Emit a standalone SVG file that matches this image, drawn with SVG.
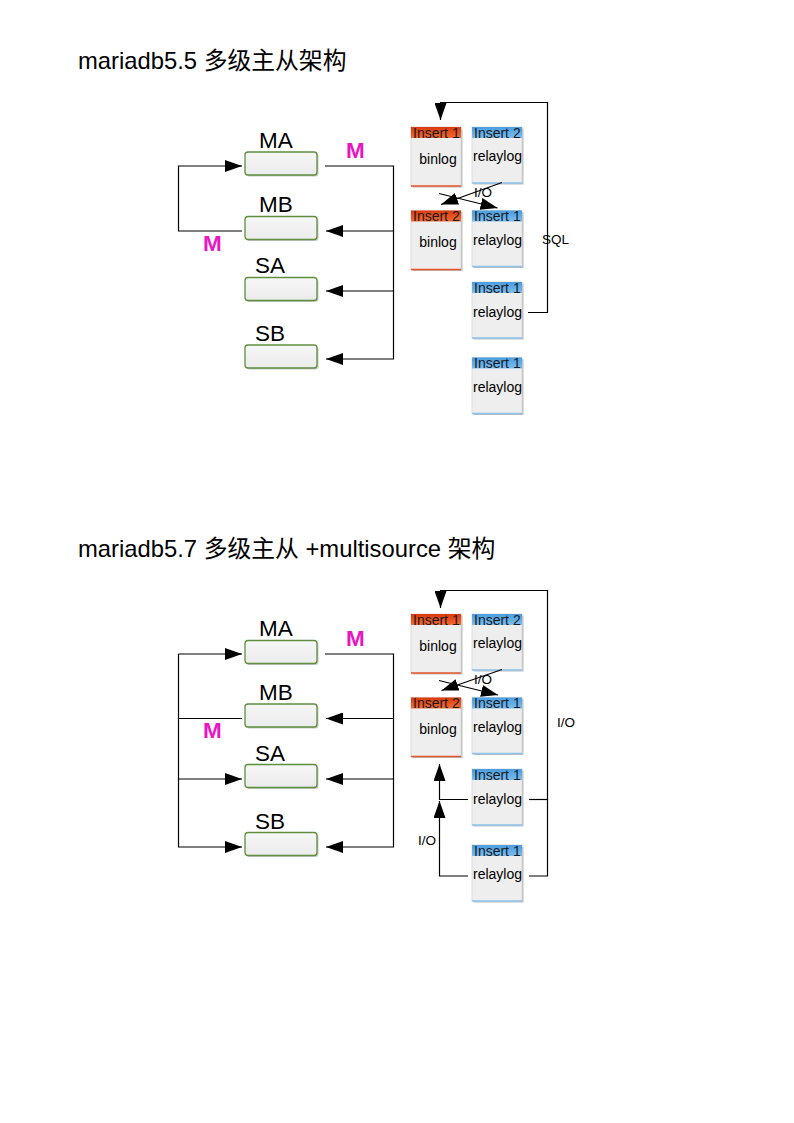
<svg xmlns="http://www.w3.org/2000/svg" width="794" height="1123" viewBox="0 0 794 1123">
<defs>
<marker id="ah" markerUnits="userSpaceOnUse" markerWidth="18" markerHeight="12" refX="17" refY="6" orient="auto">
<path d="M0,0 L17,6 L0,12 z" fill="#000"/>
</marker>
<linearGradient id="gbox" x1="0" y1="0" x2="0" y2="1">
<stop offset="0" stop-color="#f7f7f7"/><stop offset="1" stop-color="#ebebeb"/>
</linearGradient>
<linearGradient id="gor" x1="0" y1="0" x2="0" y2="1">
<stop offset="0" stop-color="#dc3a0c"/><stop offset="1" stop-color="#f26a34"/>
</linearGradient>
<linearGradient id="gbl" x1="0" y1="0" x2="0" y2="1">
<stop offset="0" stop-color="#4a9de0"/><stop offset="1" stop-color="#78bdf0"/>
</linearGradient>
</defs>
<style>
.title{font-family:"Liberation Sans","Noto Sans CJK SC",sans-serif;font-size:23.8px;fill:#000}
.lbl{font-family:"Liberation Sans",sans-serif;font-size:22.5px;fill:#000}
.m{font-family:"Liberation Sans",sans-serif;font-size:22.5px;font-weight:bold;fill:#e816c4}
.hd{font-family:"Liberation Sans",sans-serif;font-size:14px;fill:#1a1a1a}
.bt{font-family:"Liberation Sans",sans-serif;font-size:14px;fill:#000;text-anchor:middle}
.cl{font-family:"Liberation Sans",sans-serif;font-size:13.5px;fill:#000}
.node{fill:url(#gbox);stroke:#5e8f3e;stroke-width:1.3}
.nsh{fill:#c9c9c9}
.body{fill:#eeeeee;stroke:#d4d4d4;stroke-width:0.8}
.sh{fill:#bdbdbd}
.ho{fill:url(#gor)}
.hb{fill:url(#gbl)}
.bo{stroke:#e8552a;stroke-width:1.5}
.bb{stroke:#8cc4ee;stroke-width:1.5}
.c{fill:none;stroke:#000;stroke-width:1.2}
.a{marker-end:url(#ah)}
</style>

<text class="title" x="78" y="69">mariadb5.5 多级主从架构</text>
<text class="title" x="78" y="557">mariadb5.7 多级主从 +multisource 架构</text>

<!-- Diagram 1 left nodes -->
<g id="d1-MA"><rect class="nsh" x="246.5" y="153.5" width="72" height="23" rx="3"/><rect class="node" x="245" y="152" width="72" height="23" rx="3"/><text class="lbl" x="259" y="148">MA</text></g>
<g id="d1-MB"><rect class="nsh" x="246.5" y="218" width="72" height="23" rx="3"/><rect class="node" x="245" y="216.5" width="72" height="23" rx="3"/><text class="lbl" x="259" y="212">MB</text></g>
<g id="d1-SA"><rect class="nsh" x="246.5" y="279" width="72" height="23" rx="3"/><rect class="node" x="245" y="277.5" width="72" height="23" rx="3"/><text class="lbl" x="255" y="273">SA</text></g>
<g id="d1-SB"><rect class="nsh" x="246.5" y="346.5" width="72" height="23" rx="3"/><rect class="node" x="245" y="345" width="72" height="23" rx="3"/><text class="lbl" x="255" y="341">SB</text></g>
<text class="m" x="346" y="158">M</text>
<text class="m" x="203" y="251">M</text>

<!-- Diagram 1 right log boxes -->
<g id="d1-binlog1"><rect class="sh" x="412.5" y="128.5" width="50" height="59"/><rect class="body" x="411" y="127" width="50" height="59"/><rect class="ho" x="411" y="127" width="50" height="11"/><line class="bo" x1="411" y1="186" x2="461" y2="186"/><text class="hd" x="413" y="137.5">Insert 1</text><text class="bt" x="438" y="163.5">binlog</text></g>
<g id="d1-relay2"><rect class="sh" x="473.5" y="128.5" width="50" height="56"/><rect class="body" x="472" y="127" width="50" height="56"/><rect class="hb" x="472" y="127" width="50" height="11"/><line class="bb" x1="472" y1="183" x2="522" y2="183"/><text class="hd" x="474" y="137.5">Insert 2</text><text class="bt" x="497.5" y="161">relaylog</text></g>
<g id="d1-binlog2"><rect class="sh" x="412.5" y="212" width="50" height="59"/><rect class="body" x="411" y="210.5" width="50" height="59"/><rect class="ho" x="411" y="210.5" width="50" height="11"/><line class="bo" x1="411" y1="269.5" x2="461" y2="269.5"/><text class="hd" x="413" y="221">Insert 2</text><text class="bt" x="438" y="246.8">binlog</text></g>
<g id="d1-relay1"><rect class="sh" x="473.5" y="212" width="50" height="56"/><rect class="body" x="472" y="210.5" width="50" height="56"/><rect class="hb" x="472" y="210.5" width="50" height="11"/><line class="bb" x1="472" y1="266.5" x2="522" y2="266.5"/><text class="hd" x="474" y="221">Insert 1</text><text class="bt" x="497.5" y="244.5">relaylog</text></g>
<g id="d1-relay3"><rect class="sh" x="473.5" y="283.5" width="50" height="56"/><rect class="body" x="472" y="282" width="50" height="56"/><rect class="hb" x="472" y="282" width="50" height="11"/><line class="bb" x1="472" y1="338" x2="522" y2="338"/><text class="hd" x="474" y="292.5">Insert 1</text><text class="bt" x="497.5" y="316.5">relaylog</text></g>
<g id="d1-relay4"><rect class="sh" x="473.5" y="359" width="50" height="56"/><rect class="body" x="472" y="357.5" width="50" height="56"/><rect class="hb" x="472" y="357.5" width="50" height="11"/><line class="bb" x1="472" y1="413.5" x2="522" y2="413.5"/><text class="hd" x="474" y="368">Insert 1</text><text class="bt" x="497.5" y="391.8">relaylog</text></g>

<!-- Diagram 2 left nodes -->
<g id="d2-MA"><rect class="nsh" x="246.5" y="642" width="72" height="23" rx="3"/><rect class="node" x="245" y="640.5" width="72" height="23" rx="3"/><text class="lbl" x="259" y="635.5">MA</text></g>
<g id="d2-MB"><rect class="nsh" x="246.5" y="705.5" width="72" height="23" rx="3"/><rect class="node" x="245" y="704" width="72" height="23" rx="3"/><text class="lbl" x="259" y="699.5">MB</text></g>
<g id="d2-SA"><rect class="nsh" x="246.5" y="766" width="72" height="23" rx="3"/><rect class="node" x="245" y="764.5" width="72" height="23" rx="3"/><text class="lbl" x="255" y="760.5">SA</text></g>
<g id="d2-SB"><rect class="nsh" x="246.5" y="834" width="72" height="23" rx="3"/><rect class="node" x="245" y="832.5" width="72" height="23" rx="3"/><text class="lbl" x="255" y="828.5">SB</text></g>
<text class="m" x="346" y="645.5">M</text>
<text class="m" x="203" y="738">M</text>

<!-- Diagram 2 right log boxes -->
<g id="d2-binlog1"><rect class="sh" x="412.5" y="615.5" width="50" height="59"/><rect class="body" x="411" y="614" width="50" height="59"/><rect class="ho" x="411" y="614" width="50" height="11"/><line class="bo" x1="411" y1="673" x2="461" y2="673"/><text class="hd" x="413" y="624.5">Insert 1</text><text class="bt" x="438" y="650.5">binlog</text></g>
<g id="d2-relay2"><rect class="sh" x="473.5" y="615.5" width="50" height="56"/><rect class="body" x="472" y="614" width="50" height="56"/><rect class="hb" x="472" y="614" width="50" height="11"/><line class="bb" x1="472" y1="670" x2="522" y2="670"/><text class="hd" x="474" y="624.5">Insert 2</text><text class="bt" x="497.5" y="648">relaylog</text></g>
<g id="d2-binlog2"><rect class="sh" x="412.5" y="699" width="50" height="59"/><rect class="body" x="411" y="697.5" width="50" height="59"/><rect class="ho" x="411" y="697.5" width="50" height="11"/><line class="bo" x1="411" y1="756.5" x2="461" y2="756.5"/><text class="hd" x="413" y="708">Insert 2</text><text class="bt" x="438" y="733.8">binlog</text></g>
<g id="d2-relay1"><rect class="sh" x="473.5" y="699" width="50" height="56"/><rect class="body" x="472" y="697.5" width="50" height="56"/><rect class="hb" x="472" y="697.5" width="50" height="11"/><line class="bb" x1="472" y1="753.5" x2="522" y2="753.5"/><text class="hd" x="474" y="708">Insert 1</text><text class="bt" x="497.5" y="731.5">relaylog</text></g>
<g id="d2-relay3"><rect class="sh" x="473.5" y="770.5" width="50" height="56"/><rect class="body" x="472" y="769" width="50" height="56"/><rect class="hb" x="472" y="769" width="50" height="11"/><line class="bb" x1="472" y1="825" x2="522" y2="825"/><text class="hd" x="474" y="779.5">Insert 1</text><text class="bt" x="497.5" y="803.5">relaylog</text></g>
<g id="d2-relay4"><rect class="sh" x="473.5" y="846.5" width="50" height="56"/><rect class="body" x="472" y="845" width="50" height="56"/><rect class="hb" x="472" y="845" width="50" height="11"/><line class="bb" x1="472" y1="901" x2="522" y2="901"/><text class="hd" x="474" y="855.5">Insert 1</text><text class="bt" x="497.5" y="879">relaylog</text></g>

<!-- Connectors -->
<g id="connectors">
<path class="c a" d="M242,231 H178.5 V166 H242"/>
<path class="c a" d="M325,166 H393.5 V359 H326"/>
<path class="c a" d="M393.5,231 H326"/>
<path class="c a" d="M393.5,291 H326"/>
<path class="c a" d="M528,312.5 H547.5 V102.5 H440.5 V120"/>
<path class="c a" d="M502,182.5 L441,204.5"/>
<path class="c a" d="M439,193.5 L497.5,208"/>
<text class="cl" x="474" y="197">I/O</text>
<text class="cl" x="542" y="243.5">SQL</text>

<path class="c a" d="M178.5,654 V847 H242"/>
<path class="c a" d="M178.5,654 H242"/>
<path class="c a" d="M178.5,779 H242"/>
<path class="c" d="M178.5,718.5 H242"/>
<path class="c a" d="M325,654 H393.5 V847 H326"/>
<path class="c a" d="M393.5,718.5 H326"/>
<path class="c a" d="M393.5,779 H326"/>
<path class="c a" d="M529,876 H547.5 V590.5 H440.5 V608"/>
<path class="c" d="M529,799.5 H547.5"/>
<path class="c a" d="M468,799.5 H439.5 V764"/>
<path class="c a" d="M468,876 H439.5 V801"/>
<path class="c a" d="M502,669.5 L441.5,690.5"/>
<path class="c a" d="M439,680.5 L498,695"/>
<text class="cl" x="474" y="684">I/O</text>
<text class="cl" x="557" y="727">I/O</text>
<text class="cl" x="418" y="844.5">I/O</text>
</g>
</svg>
